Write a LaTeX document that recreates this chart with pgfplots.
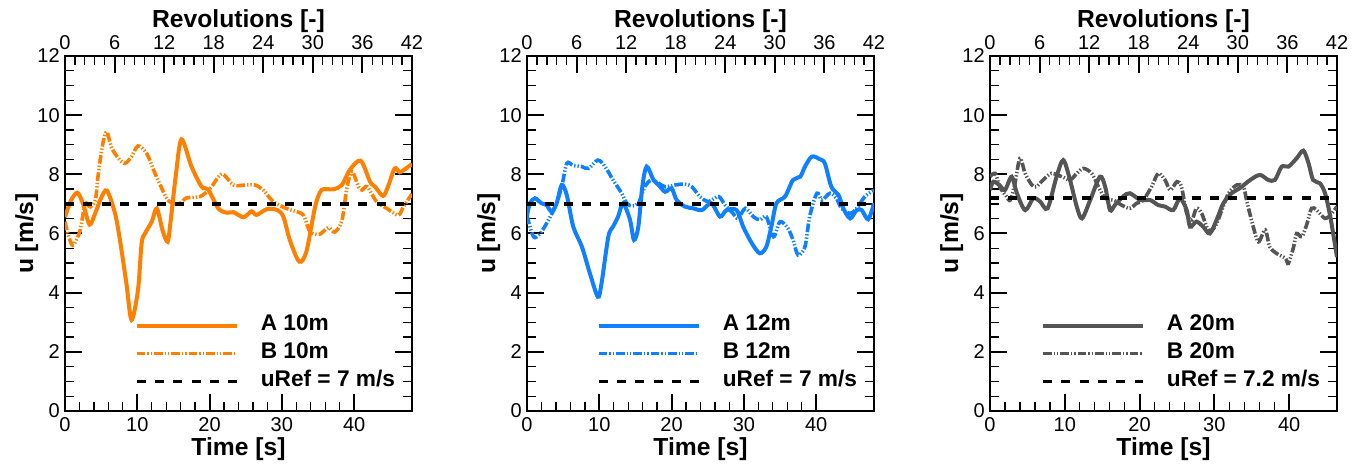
\documentclass[border=0pt]{standalone}
\usepackage{fontspec}
\setmainfont{Liberation Sans}
\usepackage{pgfplots}
\pgfplotsset{compat=1.18}
\definecolor{cOr}{RGB}{255,128,0}
\definecolor{cBl}{RGB}{17,128,255}
\definecolor{cGr}{RGB}{85,85,85}
\pgfplotsset{
  base/.style={
    scale only axis, width=260.25pt, height=266.25pt,
    ymin=0, ymax=12, xmin=0,
    tick align=inside,
    major tick length=12.75pt, minor tick length=6.4pt,
    tick style={black, line width=1.5pt},
    minor tick style={line width=1pt},
    axis line style={line width=2pt},
    /pgf/number format/assume math mode=true,
    tick label style={font=\fontsize{15}{17}\selectfont},
    label style={font=\fontsize{18.5}{22}\selectfont\bfseries},
  },
  bottomax/.style={base,
    xtick={0,10,...,40}, minor x tick num=4,
    ytick={0,2,...,12}, minor y tick num=3,
    xtick pos=left, ytick pos=both, xticklabel pos=left, yticklabel pos=left,
    xticklabel style={anchor=north, inner sep=0pt, yshift=-4.5pt},
    yticklabel style={anchor=east, inner sep=0pt, xshift=-3.75pt},
    xlabel={Time [s]}, ylabel={u [m/s]},
    xlabel style={at={(axis description cs:0.5,0)}, anchor=base, yshift=-33.75pt},
    ylabel style={at={(axis description cs:-0.0922,0.5)}, anchor=base},
    legend style={draw=none, fill=none, at={(axis description cs:0.951,0.053)}, anchor=south east,
      inner sep=0pt, outer sep=0pt, row sep=5pt,
      font=\fontsize{17}{20}\selectfont\bfseries,
      nodes={inner sep=0pt, text height=12pt, text depth=4pt},
      /tikz/every odd column/.append style={column sep=16.5pt}},
    legend cell align=left,
    legend image code/.code={\draw[##1] (0pt,0pt) -- (75pt,0pt);},
  },
  topax/.style={base, xmin=0, xmax=42, axis x line*=top, axis y line=none,
    xtick={0,6,...,42}, minor x tick num=4,
    xticklabel style={anchor=south, inner sep=0pt, yshift=4.5pt},
    xlabel={Revolutions [-]},
    xlabel style={at={(axis description cs:0.5,1)}, anchor=base, yshift=21.5pt}},
  lA/.style={line width=3pt, smooth, tension=0.5},
  lB/.style={line width=2.7pt, smooth, tension=0.5, dash pattern=on 6.5pt off 1.5pt on 1pt off 1.5pt on 1pt off 1.5pt},
  lR/.style={black, line width=2.6pt, dash pattern=on 6.75pt off 7pt},
}
\begin{document}
\begin{tikzpicture}
\path[use as bounding box] (0pt,0pt) rectangle (1023.75pt,349.5pt);
% ---------------- Panel 1 ----------------
\begin{axis}[bottomax, at={(48.75pt,41.25pt)}, anchor=south west, xmax=48]
\addplot[cOr, lA] coordinates {(0,6.55) (0.8,7.1) (1.7,7.38) (2.5,7.0) (3.4,6.3) (4.2,6.7) (5.0,7.2) (5.8,7.45) (6.9,6.7) (7.6,5.78) (8.5,4.3) (9.2,3.08) (10.1,4.1) (10.6,5.67) (11.07,6.0) (12.0,6.4) (12.7,6.85) (13.5,6.1) (14.2,5.72) (14.6,6.4) (15.3,7.9) (16.1,9.18) (17.5,8.26) (18.9,7.58) (19.8,7.49) (21.2,6.85) (22.4,6.7) (23.3,6.72) (24.7,6.55) (25.8,6.75) (26.5,6.63) (27.9,6.82) (29.3,6.8) (30.2,6.57) (31.1,5.78) (32.4,5.05) (33.4,5.4) (34.6,6.9) (35.5,7.47) (37.1,7.49) (38.3,7.64) (39.4,8.15) (40.9,8.46) (42.2,7.75) (42.9,7.58) (44.0,7.27) (44.7,7.6) (45.6,8.2) (46.3,8.07) (47.0,8.17) (48,8.35)};
\addlegendentry{A 10m}
\addplot[cOr, lB] coordinates {(0,6.4) (0.5,5.9) (1.06,5.6) (1.6,5.8) (2.1,6.12) (2.8,7.0) (3.5,6.9) (4.2,7.13) (4.6,8.0) (5.2,9.0) (5.76,9.44) (6.45,8.9) (7.4,8.54) (8.3,8.37) (9.2,8.6) (10.1,8.96) (11.3,8.7) (12.45,8.03) (13.4,7.52) (14.3,7.11) (15.7,6.99) (16.8,7.2) (18.7,7.25) (20.1,7.53) (21.7,8.01) (23.3,7.64) (25.1,7.64) (26.3,7.64) (27.4,7.47) (28.8,7.08) (30.6,6.85) (32.7,6.68) (33.2,6.5) (33.9,6.06) (35.2,5.97) (36.4,6.2) (37.3,6.05) (38.3,6.43) (39.0,7.55) (39.7,8.09) (40.6,7.58) (41.1,7.47) (41.8,7.58) (43.1,7.08) (44.5,6.85) (46.1,6.62) (46.8,6.9) (48,7.34)};
\addlegendentry{B 10m}
\addplot[lR] coordinates {(0,7) (48,7)};
\addlegendentry{uRef = 7 m/s}
\end{axis}
\begin{axis}[topax, at={(48.75pt,41.25pt)}, anchor=south west]
\end{axis}
% ---------------- Panel 2 ----------------
\begin{axis}[bottomax, at={(395.25pt,41.25pt)}, anchor=south west, xmax=48]
\addplot[cBl, lA] coordinates {(0,6.6) (0.4,7.02) (1.1,7.19) (2.0,7.02) (2.7,6.96) (3.4,6.74) (4.1,7.02) (4.8,7.64) (5.5,7.3) (6.4,6.23) (7.6,5.55) (8.7,4.65) (9.8,3.86) (10.3,4.3) (11.25,5.89) (11.9,6.23) (12.6,6.57) (13.3,7.02) (14.25,6.46) (14.8,5.78) (15.4,6.23) (15.95,7.58) (16.55,8.26) (17.5,7.81) (18.2,7.64) (19.1,7.41) (20.0,7.53) (20.7,7.13) (21.85,6.91) (23.0,6.85) (24.2,6.79) (25.5,7.02) (26.7,6.57) (27.6,6.79) (29.0,6.79) (29.9,6.23) (31.1,5.67) (32.2,5.33) (33.1,5.55) (33.8,6.23) (34.5,7.02) (35.7,7.25) (36.8,7.81) (37.8,7.92) (38.45,8.26) (39.4,8.6) (40.5,8.51) (41.2,8.37) (42.1,7.58) (43.1,7.3) (43.75,6.85) (44.7,6.51) (45.6,6.79) (46.3,6.79) (47.2,6.48) (48,7.02)};
\addlegendentry{A 12m}
\addplot[cBl, lB] coordinates {(0,6.6) (0.9,5.89) (1.8,6.0) (2.7,6.34) (3.9,6.9) (4.8,7.58) (5.5,8.37) (6.4,8.3) (7.6,8.26) (8.5,8.2) (9.8,8.48) (10.8,8.26) (11.9,7.81) (13.1,7.36) (13.8,7.02) (14.5,6.93) (15.4,7.02) (16.3,7.58) (17.2,7.81) (18.2,7.7) (19.1,7.58) (20.5,7.64) (21.85,7.67) (22.8,7.58) (23.9,7.25) (25.1,7.08) (26.5,7.25) (27.4,6.96) (28.5,6.68) (29.2,6.51) (30.2,6.85) (31.3,6.57) (32.2,6.46) (33.1,6.57) (34.1,5.89) (35.0,6.4) (36.1,6.17) (36.8,5.78) (37.5,5.27) (38.45,5.55) (39.1,6.57) (40.1,7.36) (40.8,7.13) (41.9,7.36) (42.8,7.19) (43.5,6.85) (44.7,6.68) (45.6,6.85) (46.75,7.25) (48,7.47)};
\addlegendentry{B 12m}
\addplot[lR] coordinates {(0,7) (48,7)};
\addlegendentry{uRef = 7 m/s}
\end{axis}
\begin{axis}[topax, at={(395.25pt,41.25pt)}, anchor=south west]
\end{axis}
% ---------------- Panel 3 ----------------
\begin{axis}[bottomax, at={(742.5pt,41.25pt)}, anchor=south west, xmax=46.4]
\addplot[cGr, lA] coordinates {(0,7.47) (0.45,7.75) (1.25,7.64) (2.0,7.47) (2.9,7.92) (3.6,7.36) (4.7,6.79) (5.8,7.19) (6.7,7.08) (7.7,6.85) (8.9,7.92) (9.8,8.48) (10.7,7.81) (11.6,6.91) (12.3,6.51) (13.4,7.13) (14.7,7.92) (15.4,7.58) (16.05,6.79) (16.7,6.96) (17.8,7.25) (18.7,7.36) (20.1,7.13) (21.4,7.13) (22.5,6.96) (23.4,6.91) (24.5,6.79) (25.4,7.19) (26.3,6.79) (26.75,6.23) (27.6,6.4) (28.5,6.23) (29.4,6.0) (30.3,6.46) (31.2,7.02) (32.3,7.36) (33.4,7.53) (34.8,7.81) (36.1,7.98) (37.2,7.81) (38.1,7.81) (39.0,8.26) (39.9,8.26) (41.0,8.54) (41.9,8.8) (42.6,8.37) (43.2,7.81) (44.1,7.7) (44.8,7.36) (45.5,6.57) (46.4,5.2)};
\addlegendentry{A 20m}
\addplot[cGr, lB] coordinates {(0,7.92) (0.7,8.03) (1.3,7.58) (2.2,7.25) (2.7,7.13) (3.3,7.64) (4.0,8.54) (4.7,8.03) (5.6,7.64) (6.2,7.58) (7.1,7.81) (8.2,8.03) (9.6,7.92) (10.7,7.81) (11.6,8.03) (12.5,8.2) (13.6,8.03) (14.5,7.58) (15.4,7.19) (16.5,7.13) (17.6,6.96) (18.7,6.85) (19.6,7.02) (20.5,7.13) (21.6,7.58) (22.5,8.03) (23.4,7.81) (24.1,7.47) (25.0,7.75) (25.6,7.58) (26.3,6.68) (27.0,6.46) (27.6,6.85) (28.3,6.68) (29.2,6.12) (30.1,6.23) (31.0,6.79) (31.9,7.36) (33.0,7.64) (33.9,7.58) (34.3,7.13) (35.2,6.23) (35.9,5.72) (36.8,6.12) (37.4,5.55) (38.3,5.33) (39.5,5.16) (39.9,4.99) (40.6,5.55) (41.0,6.0) (41.7,5.89) (42.4,6.34) (43.0,6.85) (43.7,6.79) (44.8,6.51) (45.7,6.68) (46.4,6.91)};
\addlegendentry{B 20m}
\addplot[lR] coordinates {(0,7.2) (46.4,7.2)};
\addlegendentry{uRef = 7.2 m/s}
\end{axis}
\begin{axis}[topax, at={(742.5pt,41.25pt)}, anchor=south west]
\end{axis}
\end{tikzpicture}
\end{document}
